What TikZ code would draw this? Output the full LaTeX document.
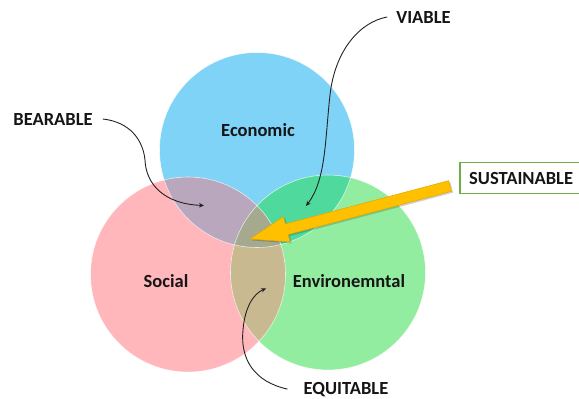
\documentclass[tikz,border=0pt]{standalone}
\usepackage{fontspec}
\setmainfont{Carlito}
\usetikzlibrary{arrows.meta}
\definecolor{cblue}{HTML}{7FD3F6}
\definecolor{cpink}{HTML}{FFB7BB}
\definecolor{cgreen}{HTML}{92EDA0}
\definecolor{cmauve}{HTML}{B9A7BE}
\definecolor{cteal}{HTML}{4FD99C}
\definecolor{ctan}{HTML}{C9B991}
\definecolor{ccenter}{HTML}{A5A98D}
\definecolor{txt}{HTML}{151515}
\definecolor{lin}{HTML}{222222}
\definecolor{boxgreen}{HTML}{70AD47}
\definecolor{arrowyellow}{HTML}{FFC000}
\definecolor{arrowedge}{HTML}{E5A600}
\begin{document}
\begin{tikzpicture}[x=1pt,y=-1pt,
  lbl/.style={font=\bfseries\fontsize{18.5}{20}\selectfont, text=txt, inner ysep=0pt, inner xsep=0pt},
  conn/.style={draw=lin, line width=0.9pt, -{Stealth[length=5pt,width=4.5pt]}},
  rim/.style={draw=white, draw opacity=0.7, line width=0.6pt}]
\useasboundingbox (0,0) rectangle (579,399);
% circle centres
\coordinate (cB) at (257,150);
\coordinate (cP) at (188,274.5);
\coordinate (cG) at (328,272.5);
% base circles
\fill[cpink] (cP) circle[radius=97.5pt];
\fill[cblue] (cB) circle[radius=97.5pt];
\fill[cgreen] (cG) circle[radius=97.5pt];
% overlaps
\begin{scope}\clip (cB) circle[radius=97.5pt]; \fill[cmauve] (cP) circle[radius=97.5pt]; \end{scope}
\begin{scope}\clip (cB) circle[radius=97.5pt]; \fill[cteal] (cG) circle[radius=97.5pt]; \end{scope}
\begin{scope}\clip (cP) circle[radius=97.5pt]; \fill[ctan] (cG) circle[radius=97.5pt]; \end{scope}
\begin{scope}\clip (cB) circle[radius=97.5pt]; \clip (cP) circle[radius=97.5pt]; \fill[ccenter] (cG) circle[radius=97.5pt]; \end{scope}
% rims
\draw[rim] (cB) circle[radius=97.5pt];
\draw[rim] (cP) circle[radius=97.5pt];
\draw[rim] (cG) circle[radius=97.5pt];
% circle labels
\node[lbl, anchor=base] (econ) at (258,136) {Economic};
\node[lbl, anchor=base] (soc) at (166,287) {Social};
\node[lbl, anchor=base] (env) at (349,287) {Environemntal};
% outer labels
\node[lbl, anchor=base, inner xsep=10pt] (bear) at (53,125) {BEARABLE};
\node[lbl, anchor=base, inner xsep=9pt] (viab) at (423.5,23) {VIABLE};
\node[lbl, anchor=base, inner xsep=16pt] (equi) at (346,394) {EQUITABLE};
\node[lbl, anchor=west, inner xsep=9pt, minimum height=31pt] (sust) at (460,178) {SUSTAINABLE};
\draw[boxgreen, line width=1.2pt] (sust.north west) rectangle ([xshift=20pt]sust.south east);
% arrow tips of connectors
\coordinate (bt) at (204,205.5);
\coordinate (vt) at (306,206);
\coordinate (et) at (266,288.5);
\draw[conn] (bear.east) .. controls (130,122) and (143,140) .. (145,160) .. controls (146,185) and (165,204) .. (bt);
\draw[conn] (viab.west) .. controls (360,22) and (335,50) .. (330,95) .. controls (325,140) and (326,180) .. (vt);
\draw[conn] (equi.west) .. controls (255,382) and (240,360) .. (243,330) .. controls (245,305) and (255,293) .. (et);
% yellow block arrow
\coordinate (yt) at (250,239);
\begin{scope}[shift={(yt)}, rotate=14.84]
  \fill[black, opacity=0.18, shift={(1.2,1.8)}] (0,0) -- (38,-13) -- (38,-5.5) -- (207,-5.5) -- (207,5.5) -- (38,5.5) -- (38,13) -- cycle;
  \filldraw[fill=arrowyellow, draw=arrowedge, line width=0.5pt, line join=miter] (0,0) -- (38,-13) -- (38,-5.5) -- (207,-5.5) -- (207,5.5) -- (38,5.5) -- (38,13) -- cycle;
\end{scope}
\end{tikzpicture}
\end{document}
